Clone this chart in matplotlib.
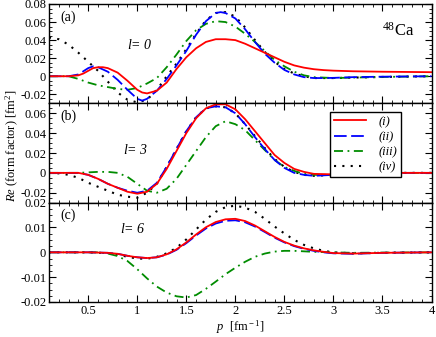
import numpy as np
import matplotlib
matplotlib.use('Agg')
import matplotlib.pyplot as plt
from matplotlib.ticker import MultipleLocator, FuncFormatter

plt.rcParams['font.family'] = ['Liberation Serif', 'DejaVu Serif']
plt.rcParams['mathtext.fontset'] = 'custom'
plt.rcParams['mathtext.rm'] = 'Liberation Serif'
plt.rcParams['mathtext.it'] = 'Liberation Serif:italic'
plt.rcParams['axes.unicode_minus'] = False

# ---- data ----
# panel (a), l = 0
p_a_red = [0.1, 0.3, 0.4, 0.45, 0.5, 0.55, 0.6, 0.65, 0.7, 0.8, 0.9, 1.0, 1.05, 1.1, 1.2, 1.3, 1.4, 1.5,
           1.6, 1.7, 1.8, 1.9, 2.0, 2.1, 2.2, 2.3, 2.4, 2.5, 2.6, 2.7, 2.8, 2.9, 3.0, 3.2, 3.5, 4.0]
a_red = [0, 0, 0.001, 0.003, 0.006, 0.009, 0.010, 0.010, 0.009, 0.004, -0.005, -0.015, -0.018, -0.019,
         -0.016, -0.007, 0.008, 0.021, 0.031, 0.038, 0.041, 0.041, 0.040, 0.036, 0.031, 0.026, 0.021,
         0.016, 0.012, 0.0095, 0.0078, 0.0068, 0.0062, 0.0055, 0.005, 0.0045]
p_a_blue = [0.1, 0.3, 0.4, 0.5, 0.55, 0.6, 0.7, 0.8, 0.9, 1.0, 1.05, 1.1, 1.2, 1.3, 1.4, 1.5, 1.6, 1.7,
            1.8, 1.85, 1.9, 2.0, 2.1, 2.2, 2.3, 2.4, 2.5, 2.6, 2.7, 2.8, 2.9, 3.0, 3.2, 3.5, 4.0]
a_blue = [0, 0, 0.002, 0.009, 0.011, 0.010, 0.005, -0.004, -0.015, -0.025, -0.027, -0.025, -0.016,
          -0.003, 0.012, 0.028, 0.046, 0.061, 0.070, 0.071, 0.070, 0.064, 0.052, 0.038, 0.025, 0.015,
          0.007, 0.002, -0.001, -0.002, -0.002, -0.0018, -0.001, -0.0005, 0]
p_a_green = [0.1, 0.3, 0.4, 0.5, 0.6, 0.7, 0.8, 0.9, 1.0, 1.1, 1.2, 1.3, 1.4, 1.5, 1.6, 1.7, 1.8, 1.9,
             2.0, 2.1, 2.2, 2.3, 2.4, 2.5, 2.6, 2.7, 2.8, 3.0, 3.2, 3.5, 4.0]
a_green = [0, 0, -0.003, -0.007, -0.010, -0.012, -0.014, -0.015, -0.013, -0.008, -0.002, 0.010, 0.024,
           0.039, 0.051, 0.058, 0.061, 0.060, 0.055, 0.047, 0.038, 0.028, 0.018, 0.011, 0.005, 0.001,
           -0.001, -0.002, -0.0015, -0.0008, 0]
p_a_black = [0.1, 0.2, 0.3, 0.4, 0.5, 0.6, 0.7, 0.8, 0.9, 1.0, 1.1, 1.2, 1.3, 1.4, 1.5, 1.6, 1.7, 1.8,
             1.9, 2.0, 2.1, 2.2, 2.3, 2.4, 2.5, 2.6, 2.7, 2.8, 3.0, 3.2, 3.5, 4.0]
a_black = [0.043, 0.041, 0.035, 0.026, 0.016, 0.006, -0.006, -0.018, -0.026, -0.029, -0.026, -0.015,
           0.000, 0.014, 0.030, 0.047, 0.062, 0.070, 0.071, 0.066, 0.054, 0.040, 0.027, 0.016, 0.008,
           0.003, 0.000, -0.002, -0.002, -0.0015, -0.0008, 0]

# panel (b), l = 3
p_b = [0.1, 0.4, 0.5, 0.6, 0.7, 0.8, 0.9, 1.0, 1.1, 1.2, 1.3, 1.4, 1.5, 1.6, 1.7, 1.8, 1.9, 2.0, 2.1,
       2.2, 2.3, 2.4, 2.5, 2.6, 2.7, 2.8, 3.0, 3.2, 3.5, 4.0]
b_red = [0, 0, -0.002, -0.006, -0.011, -0.015, -0.019, -0.021, -0.019, -0.011, 0.004, 0.022, 0.040,
         0.055, 0.065, 0.069, 0.069, 0.064, 0.054, 0.042, 0.030, 0.018, 0.010, 0.004, 0.001, -0.001,
         -0.0015, -0.001, 0, 0]
b_blue = [0, 0, -0.002, -0.006, -0.011, -0.015, -0.018, -0.020, -0.018, -0.010, 0.006, 0.024, 0.042,
          0.056, 0.065, 0.067, 0.066, 0.060, 0.049, 0.036, 0.024, 0.013, 0.005, 0.000, -0.002, -0.003,
          -0.002, -0.001, 0, 0]
b_green = [0, 0, 0.0005, 0.001, 0.001, 0.0, -0.004, -0.011, -0.018, -0.020, -0.016, -0.006, 0.008,
           0.022, 0.036, 0.047, 0.052, 0.049, 0.043, 0.033, 0.023, 0.013, 0.006, 0.002, -0.001, -0.002,
           -0.002, -0.001, 0, 0]
p_b_black = [0.1, 0.2, 0.3, 0.4, 0.5, 0.6, 0.7, 0.8, 0.9, 1.0, 1.1, 1.2, 1.3, 1.4, 1.5, 1.6, 1.7, 1.8,
             1.9, 2.0, 2.1, 2.2, 2.3, 2.4, 2.5, 2.6, 2.7, 2.8, 3.0, 3.2, 3.5, 4.0]
b_black = [0, -0.0005, -0.002, -0.005, -0.010, -0.014, -0.018, -0.022, -0.024, -0.025, -0.020, -0.011,
           0.006, 0.024, 0.042, 0.056, 0.065, 0.067, 0.066, 0.060, 0.049, 0.037, 0.025, 0.014, 0.006,
           0.001, -0.002, -0.003, -0.002, -0.001, 0, 0]

# panel (c), l = 6
p_c = [0.1, 0.5, 0.7, 0.8, 0.9, 1.0, 1.1, 1.2, 1.3, 1.4, 1.5, 1.6, 1.7, 1.8, 1.9, 2.0, 2.1, 2.2, 2.3,
       2.4, 2.5, 2.6, 2.7, 2.8, 2.9, 3.0, 3.2, 3.5, 4.0]
c_red = [0, 0, -0.0002, -0.0006, -0.0014, -0.002, -0.0023, -0.002, -0.0008, 0.0012, 0.004, 0.0072,
         0.0101, 0.0122, 0.0133, 0.0135, 0.0126, 0.0108, 0.0085, 0.0062, 0.0042, 0.0027, 0.0016,
         0.0008, 0.0002, -0.0003, -0.0005, -0.0002, 0]
c_blue = [0, 0, -0.0002, -0.0006, -0.0014, -0.002, -0.0023, -0.002, -0.0009, 0.0010, 0.0037, 0.0068,
          0.0096, 0.0116, 0.0127, 0.0129, 0.0121, 0.0104, 0.0082, 0.0059, 0.0040, 0.0025, 0.0014,
          0.0006, 0.0, -0.0004, -0.0006, -0.0002, 0]
c_black = [0, 0, -0.0003, -0.0009, -0.0018, -0.0025, -0.0026, -0.0018, -0.0004, 0.0018, 0.0052,
           0.0092, 0.0132, 0.0163, 0.0182, 0.0188, 0.0180, 0.0163, 0.0135, 0.0104, 0.0076, 0.0050,
           0.0030, 0.0016, 0.0006, 0, -0.0004, -0.0002, 0]
p_c_green = [0.1, 0.6, 0.7, 0.8, 0.9, 1.0, 1.1, 1.2, 1.3, 1.4, 1.5, 1.6, 1.7, 1.8, 1.9, 2.0, 2.1, 2.2,
             2.3, 2.4, 2.5, 2.6, 2.7, 2.8, 3.0, 3.2, 3.5, 4.0]
c_green = [0, 0, -0.0005, -0.0015, -0.0035, -0.0068, -0.0105, -0.0138, -0.0162, -0.0177, -0.0182,
           -0.0172, -0.0147, -0.0118, -0.0088, -0.0062, -0.0038, -0.0018, -0.0005, 0.0003, 0.0006,
           0.0006, 0.0004, 0.0002, 0, -0.0002, -0.0001, 0]

labels = ['(i)', '(ii)', '(iii)', '(iv)']
colors = ['#ff0000', '#0000ff', '#008c00', '#000000']
styles = ['-', (0, (7, 2.5)), (0, (5, 2.5, 1, 2.5)), (0, (1, 3))]
lw = 1.3

panels = [
    dict(tag='(a)', lval='0', ylim=(-0.03, 0.08), yticks=np.arange(-0.02, 0.081, 0.02),
         curves=[(p_a_red, a_red), (p_a_blue, a_blue), (p_a_green, a_green), (p_a_black, a_black)],
         lpos=(0.9, 0.035)),
    dict(tag='(b)', lval='3', ylim=(-0.03, 0.07), yticks=np.arange(-0.02, 0.061, 0.02),
         curves=[(p_b, b_red), (p_b, b_blue), (p_b, b_green), (p_b_black, b_black)],
         lpos=(0.85, 0.023)),
    dict(tag='(c)', lval='6', ylim=(-0.02, 0.02), yticks=np.arange(-0.02, 0.021, 0.01),
         curves=[(p_c, c_red), (p_c, c_blue), (p_c_green, c_green), (p_c, c_black)],
         lpos=(0.82, 0.0095)),
]

fig = plt.figure(figsize=(4.36, 3.37), dpi=100)
left, right = 49 / 436, 431.5 / 436
top, bottom = 1 - 4 / 337, 1 - 302 / 337
h = (top - bottom) / 3

fmt = FuncFormatter(lambda v, pos: '%g' % round(v, 4))
axes = []
for i, pn in enumerate(panels):
    ax = fig.add_axes([left, top - (i + 1) * h, right - left, h])
    axes.append(ax)
    # draw in order iv, iii, ii, i so red ends on top
    for k in [3, 2, 1, 0]:
        xs, ys = pn['curves'][k]
        ax.plot(xs, ys, color=colors[k], linestyle=styles[k], lw=lw if k < 3 else 1.5,
                label=labels[k], solid_joinstyle='round')
    ax.set_xlim(0.1, 4.0)
    ax.set_ylim(*pn['ylim'])
    ax.set_yticks(pn['yticks'])
    ax.yaxis.set_major_formatter(fmt)
    ax.xaxis.set_major_locator(MultipleLocator(0.5))
    ax.xaxis.set_minor_locator(MultipleLocator(0.1))
    ax.yaxis.set_minor_locator(MultipleLocator((pn['yticks'][1] - pn['yticks'][0]) / 4))
    ax.xaxis.set_major_formatter(fmt)
    ax.tick_params(which='both', direction='in', top=True, right=True, labelsize=9, pad=2)
    ax.tick_params(which='major', length=5, width=0.8)
    ax.tick_params(which='minor', length=2.5, width=0.6)
    if i < 2:
        ax.tick_params(labelbottom=False)
    for s in ax.spines.values():
        s.set_linewidth(1.0)
    ax.text(0.03, 0.87, pn['tag'], transform=ax.transAxes, fontsize=10, va='center')
    ax.text(pn['lpos'][0], pn['lpos'][1], '$l$= ' + pn['lval'], fontsize=10,
            style='italic', va='center')

axes[0].text(0.955, 0.73, r'$^{48}$Ca', transform=axes[0].transAxes, fontsize=12,
             ha='right', va='center')

handles, labs = axes[1].get_legend_handles_labels()
order = [labs.index(l) for l in labels]
leg = axes[1].legend([handles[j] for j in order], labels, loc='upper left',
                     bbox_to_anchor=(0.718, 0.975), frameon=True, fancybox=False,
                     edgecolor='black', framealpha=1, fontsize=9, handlelength=2.6,
                     borderpad=0.3, labelspacing=0.25, handletextpad=1.0,
                     prop={'style': 'italic', 'size': 9})
leg.get_frame().set_linewidth(1.0)

axes[2].set_xlabel(r'$p$  [fm$^{\rm -1}$]', fontsize=9, labelpad=1)
fig.text(0.028, 1 - 146 / 337, r'$Re$ (form factor) [fm$^{\rm 2}$]', rotation=90,
         fontsize=9, ha='center', va='center')

fig.savefig('out.png', dpi=100)
